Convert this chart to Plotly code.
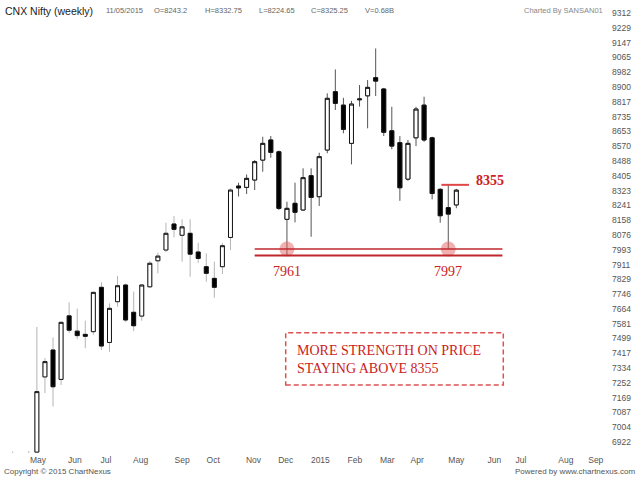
import pandas as pd
import plotly.graph_objects as go

# weekly candles, CNX Nifty, week starting Monday
weeks = pd.date_range("2014-04-21", periods=56, freq="7D")

opens = [6816, 6780, 6700, 6866, 7285, 7435, 7271, 7625, 7540, 7522, 7537,
         7784, 7477, 7704, 7797, 7645, 7624, 7787, 7932, 7992, 8137, 8074,
         8085, 7981, 7899, 7834, 7899, 8062, 8348, 8341, 8382, 8493, 8605,
         8539, 8163, 8252, 8215, 8406, 8289, 8549, 8874, 8799, 8586, 8829,
         8851, 8952, 8889, 8656, 8590, 8387, 8617, 8799, 8617, 8330, 8228,
         8243.2]
highs = [6869, 6840, 6871, 7563, 7390, 7505, 7592, 7700, 7665, 7598, 7760,
         7812, 7695, 7848, 7805, 7760, 7800, 7930, 7977, 8144, 8181, 8163,
         8163, 8032, 7973, 7927, 8032, 8335, 8367, 8413, 8493, 8623, 8627,
         8546, 8261, 8367, 8447, 8447, 8534, 8865, 8998, 8840, 8823, 8911,
         8939, 9115, 8895, 8790, 8627, 8605, 8790, 8846, 8623, 8335, 8355,
         8332.75]
lows = [6780, 6680, 6638, 6866, 7195, 7120, 7240, 7530, 7495, 7445, 7520,
        7435, 7425, 7676, 7590, 7540, 7598, 7780, 7862, 7980, 8062, 7927,
        7843, 7921, 7815, 7726, 7858, 7992, 8290, 8304, 8326, 8428, 8506,
        8215, 7961, 8146, 8210, 8066, 8237, 8531, 8772, 8642, 8469, 8791,
        8670, 8850, 8627, 8553, 8266, 8378, 8571, 8595, 8274, 8144, 7997,
        8224.65]
closes = [6782, 6695, 6858, 7203, 7370, 7230, 7589, 7545, 7515, 7511, 7756,
          7457, 7667, 7793, 7602, 7570, 7797, 7918, 7958, 8085, 8107, 8121,
          7969, 7945, 7862, 7784, 8016, 8326, 8338, 8391, 8484, 8586, 8536,
          8224, 8224, 8202, 8395, 8285, 8512, 8837, 8809, 8664, 8805, 8833,
          8898, 8933, 8648, 8571, 8339, 8586, 8777, 8605, 8307, 8183, 8192,
          8325.25]
volume_text = "0.68B"

price_ticks = [9312, 9229, 9147, 9065, 8982, 8900, 8817, 8735, 8653, 8570,
               8488, 8405, 8323, 8241, 8158, 8076, 7993, 7911, 7829, 7746,
               7664, 7581, 7499, 7417, 7334, 7252, 7169, 7087, 7004, 6922]
month_ticks = ["2014-05-13", "2014-06-14", "2014-07-11", "2014-08-10",
               "2014-09-15", "2014-10-12", "2014-11-16", "2014-12-14",
               "2015-01-13", "2015-02-12", "2015-03-12", "2015-04-07",
               "2015-05-11", "2015-06-13", "2015-07-06", "2015-08-14",
               "2015-09-09"]
month_labels = ["May", "Jun", "Jul", "Aug", "Sep", "Oct", "Nov", "Dec", "2015",
                "Feb", "Mar", "Apr", "May", "Jun", "Jul", "Aug", "Sep"]

support_levels = [7997, 7961]
support_weeks = ["2014-12-15", "2015-05-04"]
support_labels = ["7961", "7997"]
resistance = 8355
note = "MORE STRENGTH ON PRICE<br>STAYING ABOVE 8355"

# plot area in page pixels
PL, PR, PT, PB = 0, 605, 5, 453
W, H = 640, 480


def px(x):
    return (x - PL) / (PR - PL)


def py(y):
    return (PB - y) / (PB - PT)


RED = "#cc2222"
cut = 28  # wicks drawn lighter before Nov 2014

fig = go.Figure()

# wicks
for sl, col in [(slice(0, cut), "#b4b4b4"), (slice(cut, None), "#555555")]:
    fig.add_trace(go.Candlestick(
        x=weeks[sl], open=opens[sl], high=highs[sl], low=lows[sl], close=closes[sl],
        increasing=dict(line=dict(color=col, width=1), fillcolor="rgba(0,0,0,0)"),
        decreasing=dict(line=dict(color=col, width=1), fillcolor="rgba(0,0,0,0)"),
        showlegend=False, hoverinfo="skip",
    ))

# bodies
fig.add_trace(go.Candlestick(
    x=weeks, open=opens, close=closes,
    high=[max(o, c) for o, c in zip(opens, closes)],
    low=[min(o, c) for o, c in zip(opens, closes)],
    increasing=dict(line=dict(color="#111111", width=1), fillcolor="#ffffff"),
    decreasing=dict(line=dict(color="#111111", width=1), fillcolor="#000000"),
    showlegend=False,
))

# circles on the two lows
fig.add_trace(go.Scatter(
    x=support_weeks, y=[support_levels[0]] * 2, mode="markers",
    marker=dict(size=15, color="rgba(228,100,100,0.5)", line=dict(width=0)),
    showlegend=False, hoverinfo="skip",
))

for lvl, w in zip(support_levels, [1.5, 2]):
    fig.add_shape(type="line", xref="x", yref="y", x0="2014-11-17", x1="2015-06-20",
                  y0=lvl, y1=lvl, line=dict(color="#c0272d", width=w))
fig.add_shape(type="line", xref="x", yref="y", x0="2015-04-28", x1="2015-05-22",
              y0=resistance, y1=resistance, line=dict(color="#e04848", width=2))
fig.add_shape(type="rect", xref="paper", yref="paper",
              x0=px(285.7), x1=px(503.3), y0=py(385), y1=py(332.7),
              line=dict(color="#e05050", width=1.5, dash="5px,3px"))

serif = "Liberation Serif, Times New Roman, serif"
for wk, lab in zip(support_weeks, support_labels):
    fig.add_annotation(x=wk, y=min(support_levels), xref="x", yref="y", text=lab,
                       showarrow=False, yshift=-16, yanchor="middle",
                       font=dict(family=serif, size=14, color=RED))
fig.add_annotation(x="2015-05-22", y=resistance, xref="x", yref="y",
                   text="<b>%d</b>" % resistance, showarrow=False,
                   xanchor="left", xshift=5, yshift=4,
                   font=dict(family=serif, size=14, color=RED))
fig.add_annotation(x=px(295), y=py(341), xref="paper", yref="paper", text=note,
                   showarrow=False, xanchor="left", yanchor="top", align="left",
                   font=dict(family=serif, size=14, color=RED))

# header and footer
sans = "Liberation Sans, Arial, sans-serif"
o, h, l, c = opens[-1], highs[-1], lows[-1], closes[-1]
header = [
    (3, "CNX Nifty (weekly)", 10.5, "#222222"),
    (104, weeks[-1].strftime("%d/%m/%Y"), 7.5, "#666666"),
    (152, "O=%g" % o, 7.5, "#666666"),
    (203, "H=%g" % h, 7.5, "#666666"),
    (257, "L=%g" % l, 7.5, "#666666"),
    (309, "C=%g" % c, 7.5, "#666666"),
    (363, "V=" + volume_text, 7.5, "#666666"),
]
for x, txt, sz, col in header:
    fig.add_annotation(x=px(x), y=py(11), xref="paper", yref="paper", text=txt,
                       showarrow=False, xanchor="left", yanchor="middle",
                       font=dict(family=sans, size=sz, color=col))
fig.add_annotation(x=px(605), y=py(11), xref="paper", yref="paper",
                   text="Charted By SANSAN01", showarrow=False, xanchor="right",
                   yanchor="middle", font=dict(family=sans, size=7.5, color="#888888"))
fig.add_annotation(x=px(2), y=py(472), xref="paper", yref="paper",
                   text="Copyright © 2015 ChartNexus", showarrow=False,
                   xanchor="left", yanchor="middle",
                   font=dict(family=sans, size=8, color="#555555"))
fig.add_annotation(x=px(637), y=py(472), xref="paper", yref="paper",
                   text="Powered by www.chartnexus.com", showarrow=False,
                   xanchor="right", yanchor="middle",
                   font=dict(family=sans, size=8, color="#555555"))

fig.update_layout(
    width=W, height=H,
    margin=dict(l=PL, r=W - PR, t=PT, b=H - PB),
    paper_bgcolor="white", plot_bgcolor="white",
    font=dict(family=sans, size=8, color="#555555"),
    xaxis=dict(type="date", range=["2014-04-10", "2015-09-17"],
               tickvals=month_ticks, ticktext=month_labels,
               showgrid=False, zeroline=False, showline=False, ticks="",
               rangeslider=dict(visible=False), fixedrange=True,
               tickfont=dict(size=8.5, color="#555555")),
    yaxis=dict(side="right", range=[6861, 9357], tickvals=price_ticks,
               ticktext=[str(v) for v in price_ticks], ticklabelstandoff=6,
               showgrid=False, zeroline=False, showline=False, ticks="",
               tickfont=dict(size=8.5, color="#555555"), fixedrange=True),
    boxmode="overlay",
)

fig.write_html("out.html", config={"displayModeBar": False},
               post_script="document.body.style.margin='0';")
